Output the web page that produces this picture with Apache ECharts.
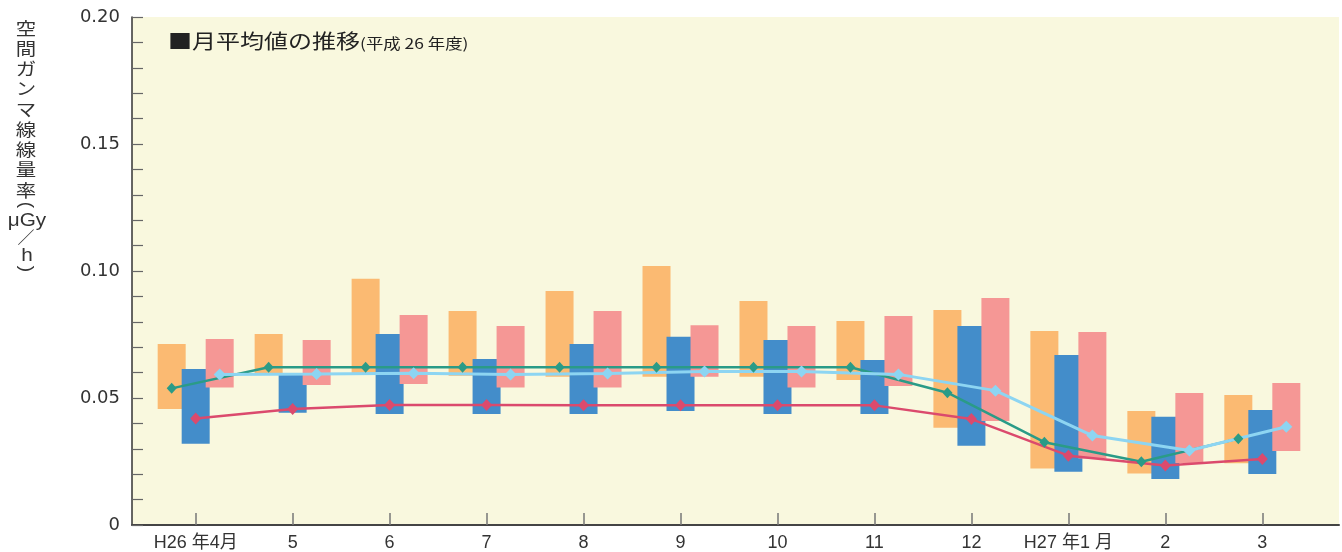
<!DOCTYPE html>
<html>
<head>
<meta charset="utf-8">
<script src="https://cdn.jsdelivr.net/npm/echarts@6/dist/echarts.min.js"></script>
<style>html,body{margin:0;padding:0;background:#fff;}#c{width:1342px;height:552px;}</style>
</head>
<body>
<div id="c"></div>
<script>
const months = ['H26 年4月','5','6','7','8','9','10','11','12','H27 年1 月','2','3'];
const yTicks = [0, 0.05, 0.10, 0.15, 0.20];

const orangeHigh = [0.0713, 0.0752, 0.0969, 0.0843, 0.0921, 0.1020, 0.0882, 0.0803, 0.0846, 0.0764, 0.0449, 0.0512];
const orangeLow  = [0.0457, 0.0598, 0.0597, 0.0588, 0.0584, 0.0584, 0.0584, 0.0571, 0.0383, 0.0222, 0.0203, 0.0243];
const blueHigh   = [0.0614, 0.0593, 0.0752, 0.0654, 0.0713, 0.0741, 0.0728, 0.0650, 0.0783, 0.0669, 0.0426, 0.0453];
const blueLow    = [0.0320, 0.0442, 0.0437, 0.0437, 0.0437, 0.0449, 0.0437, 0.0437, 0.0312, 0.0210, 0.0181, 0.0201];
const pinkHigh   = [0.0732, 0.0728, 0.0827, 0.0783, 0.0843, 0.0786, 0.0783, 0.0823, 0.0894, 0.0760, 0.0520, 0.0559];
const pinkLow    = [0.0541, 0.0551, 0.0555, 0.0541, 0.0541, 0.0584, 0.0541, 0.0547, 0.0409, 0.0262, 0.0244, 0.0291];

const greenAvg   = [0.0538, 0.0621, 0.0621, 0.0621, 0.0621, 0.0621, 0.0621, 0.0621, 0.0521, 0.0326, 0.0249, 0.0340];
const redAvg     = [0.0419, 0.0457, 0.0472, 0.0472, 0.0471, 0.0471, 0.0471, 0.0471, 0.0417, 0.0273, 0.0234, 0.0260];
const skyAvg     = [0.0593, 0.0594, 0.0597, 0.0593, 0.0596, 0.0604, 0.0604, 0.0593, 0.0529, 0.0352, 0.0293, 0.0387];

const titleMain = '■月平均値の推移';
const titleSub = '(平成 26 年度)';
const yTitleChars = ['空','間','ガ','ン','マ','線','線','量','率'];
const yTitleUnit = ['μGy', '／', 'h'];

const BAR_W = 28, BAR_GAP = -4;
const CAT_W = 1163.6 / months.length;
const OFF = (BAR_W + BAR_GAP) / CAT_W;

function diff(hi, lo) { return hi.map((v, i) => +(v - lo[i]).toFixed(4)); }
function shifted(arr, off) { return arr.map((v, i) => [i + off, v]); }

function floatBars(name, lo, hi, color) {
  const common = { type: 'bar', xAxisIndex: 1, yAxisIndex: 1, stack: name, barWidth: BAR_W, barGap: (BAR_GAP / BAR_W * 100) + '%', silent: true };
  return [
    Object.assign({}, common, { name: name + '_base', data: lo, itemStyle: { color: 'rgba(0,0,0,0)' } }),
    Object.assign({}, common, { name: name, data: diff(hi, lo), itemStyle: { color: color } })
  ];
}
function avgLine(name, arr, off, color, size, width) {
  return { type: 'line', name: name, xAxisIndex: 2, yAxisIndex: 1, data: shifted(arr, off),
    symbol: 'diamond', symbolSize: size, lineStyle: { color: color, width: width },
    itemStyle: { color: color }, z: 5, silent: true };
}

const TX = 26;
const yTitleGraphics = [
  { type: 'text', x: TX, y: 18, scaleX: 1.2, z: 10,
    style: { text: yTitleChars.join('\n'), align: 'center', fill: '#333',
      font: '17px "Noto Sans CJK JP"', lineHeight: 20.25 } },
  { type: 'text', x: TX, y: 205, rotation: -Math.PI / 2, z: 10,
    style: { text: '(', align: 'center', verticalAlign: 'middle', fill: '#333', font: '19px "Liberation Sans"' } },
  { type: 'text', x: TX + 1, y: 221, scaleX: 1.15, z: 10,
    style: { text: yTitleUnit[0], align: 'center', verticalAlign: 'middle', fill: '#333', font: '18px "Liberation Sans"' } },
  { type: 'text', x: TX, y: 238, z: 10,
    style: { text: yTitleUnit[1], align: 'center', verticalAlign: 'middle', fill: '#333', font: '17px "Noto Sans CJK JP"' } },
  { type: 'text', x: TX + 1, y: 256, scaleX: 1.15, z: 10,
    style: { text: yTitleUnit[2], align: 'center', verticalAlign: 'middle', fill: '#333', font: '18px "Liberation Sans"' } },
  { type: 'text', x: TX, y: 269, rotation: -Math.PI / 2, z: 10,
    style: { text: ')', align: 'center', verticalAlign: 'middle', fill: '#333', font: '19px "Liberation Sans"' } }
];

const chart = echarts.init(document.getElementById('c'), null, { renderer: 'canvas' });
chart.setOption({
  animation: false,
  backgroundColor: '#ffffff',
  grid: [
    { left: 132, top: 17, width: 1207, height: 508, show: true, backgroundColor: '#F9F8DE', borderWidth: 0 },
    { left: 147.2, top: 17, width: 1163.6, height: 508 }
  ],
  xAxis: [
    { gridIndex: 0, type: 'value', min: 0, max: 1,
      axisLine: { show: true, lineStyle: { color: '#444', width: 2 } },
      axisTick: { show: false }, axisLabel: { show: false }, splitLine: { show: false } },
    { gridIndex: 1, type: 'category', data: months, boundaryGap: true,
      axisLine: { show: false },
      axisTick: { show: true, inside: true, alignWithLabel: true, interval: 0, length: 12, lineStyle: { color: '#777', width: 1.5 } },
      axisLabel: { interval: 0, margin: 9, color: '#333', fontSize: 18, fontFamily: 'Liberation Sans, Noto Sans CJK JP, sans-serif' },
      splitLine: { show: false } },
    { gridIndex: 1, type: 'value', min: -0.5, max: months.length - 0.5, show: false }
  ],
  yAxis: [
    { gridIndex: 0, type: 'value', min: yTicks[0], max: yTicks[yTicks.length - 1], interval: 0.05,
      axisLine: { show: true, lineStyle: { color: '#333', width: 1.5 } },
      axisTick: { show: true, inside: true, length: 11, lineStyle: { color: '#666', width: 1.2 } },
      minorTick: { show: true, splitNumber: 5, length: 11, lineStyle: { color: '#666', width: 1.2 } },
      axisLabel: { margin: 12, color: '#333', fontSize: 18, fontFamily: 'DejaVu Sans, sans-serif',
        formatter: v => (Math.abs(v) < 1e-9 ? '0' : v.toFixed(2)) },
      splitLine: { show: false } },
    { gridIndex: 1, type: 'value', min: yTicks[0], max: yTicks[yTicks.length - 1], show: false }
  ],
  graphic: [
    { type: 'text', x: 168, y: 27, scaleX: 1.2, z: 10,
      style: { text: '{a|' + titleMain + '}{b|' + titleSub + '}', fill: '#222',
        rich: { a: { fontSize: 20, fontFamily: 'Noto Sans CJK JP', fill: '#222', verticalAlign: 'bottom', lineHeight: 24 },
                b: { fontSize: 14.5, fontFamily: 'Noto Sans CJK JP', fill: '#222', verticalAlign: 'bottom', lineHeight: 22 } } } },
    ...yTitleGraphics
  ],
  series: [
    ...floatBars('orange', orangeLow, orangeHigh, '#FBBA72'),
    ...floatBars('blue', blueLow, blueHigh, '#438DCA'),
    ...floatBars('pink', pinkLow, pinkHigh, '#F59795'),
    avgLine('green', greenAvg, -OFF, '#2A9B87', [10, 11], 2.5),
    avgLine('red', redAvg, 0, '#DB4A6D', [11, 12], 2.5),
    avgLine('sky', skyAvg, OFF, '#8DD5F2', [12, 12], 3)
  ]
});
</script>
</body>
</html>
